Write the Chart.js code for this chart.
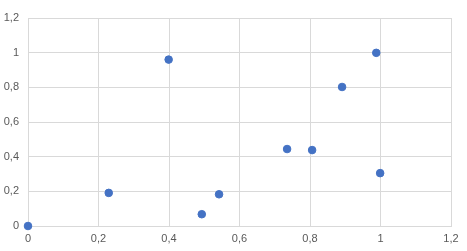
<!DOCTYPE html>
<html><head><meta charset="utf-8">
<script src="https://cdn.jsdelivr.net/npm/chart.js@4"></script>
<style>html,body{margin:0;padding:0;background:#fff;}canvas{display:block;}</style>
</head><body>
<canvas id="c" width="467" height="251"></canvas>
<script>
const xValues = [0, 0.229, 0.399, 0.493, 0.542, 0.735, 0.806, 0.891, 0.988, 0.999];
const yValues = [0, 0.191, 0.96, 0.068, 0.183, 0.444, 0.438, 0.802, 0.999, 0.305];
const xTickLabels = ['0', '0,2', '0,4', '0,6', '0,8', '1', '1,2'];
const yTickLabels = ['0', '0,2', '0,4', '0,6', '0,8', '1', '1,2'];

const points = xValues.map((x, i) => ({x: x, y: yValues[i]}));
const font = {family: '"Liberation Sans", Arial, sans-serif', size: 11};
new Chart(document.getElementById('c'), {
  type: 'scatter',
  data: {datasets: [{data: points, backgroundColor: '#4472C4', borderColor: '#4472C4', pointRadius: 3.8, pointHoverRadius: 3.8, clip: false}]},
  options: {
    responsive: false, animation: false,
    layout: {padding: {top: 18, right: 16, left: 0, bottom: 0}},
    plugins: {legend: {display: false}, tooltip: {enabled: false}},
    scales: {
      x: {
        type: 'linear', min: 0, max: 1.2,
        ticks: {stepSize: 0.2, color: '#595959', font: font, padding: 6,
          callback: (v, i) => xTickLabels[i]},
        grid: {color: '#d9d9d9', drawTicks: false},
        border: {color: '#d9d9d9'},
        afterFit: s => { s.height = 25; }
      },
      y: {
        type: 'linear', min: 0, max: 1.2,
        ticks: {stepSize: 0.2, color: '#595959', font: font, padding: 9,
          callback: (v, i) => yTickLabels[i]},
        grid: {color: '#d9d9d9', drawTicks: false},
        border: {color: '#d9d9d9'},
        afterFit: s => { s.width = 28; }
      }
    }
  }
});
</script>
</body></html>
